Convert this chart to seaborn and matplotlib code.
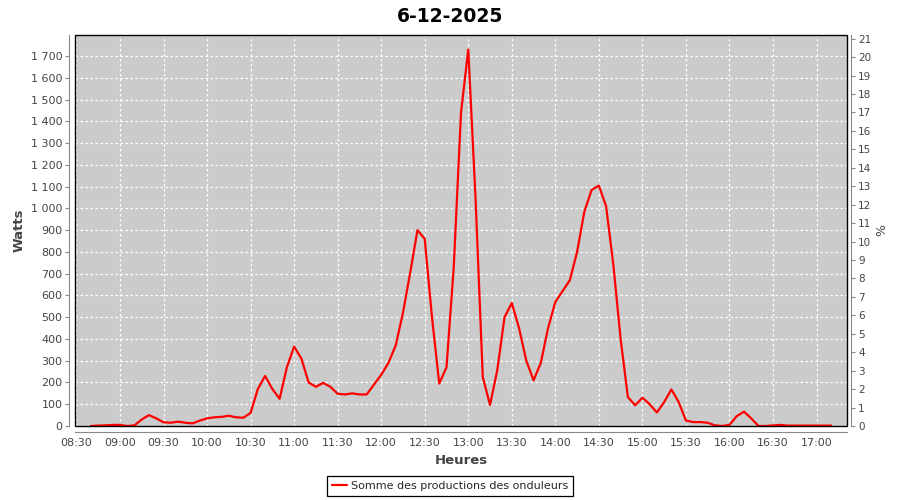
import numpy as np
import pandas as pd
import seaborn as sns
import matplotlib.pyplot as plt
import matplotlib.dates as mdates
from matplotlib.ticker import FuncFormatter, MultipleLocator
from matplotlib.patches import Rectangle

# Production (W), one reading every 5 minutes from 08:40 to 17:10
start = "2025-12-06 08:40"
watts = [
    0, 2, 3, 5,
    5, 0, 3, 30, 50, 35, 17, 15, 20, 15, 12, 25,
    35, 40, 42, 47, 40, 38, 60, 170, 230, 170, 125, 270,
    365, 310, 200, 180, 198, 180, 148, 145, 150, 145, 145, 190,
    235, 290, 370, 520, 705, 900, 860, 500, 195, 270, 730, 1440,
    1730, 1050, 225, 97, 257, 500, 565, 450, 300, 210, 290, 450,
    570, 620, 670, 800, 985, 1085, 1105, 1010, 740, 400, 133, 95,
    130, 100, 62, 110, 168, 110, 25, 18, 18, 15, 3, 0,
    5, 45, 66, 35, 0, 0, 3, 5, 2, 2, 2, 2,
    2, 2, 2,
]
serie = "Somme des productions des onduleurs"

df = pd.DataFrame({
    "heure": pd.date_range(start, periods=len(watts), freq="5min"),
    "watts": watts,
})

sns.set_style("white")
plt.rcParams["font.family"] = ["DejaVu Sans"]

fig = plt.figure(figsize=(9, 5), dpi=100)
ax = fig.add_axes([75 / 900, 74 / 500, 772 / 900, 391 / 500])
ax.set_facecolor("#cbcbcb")

sns.lineplot(data=df, x="heure", y="watts", ax=ax, color="#ff0000",
             linewidth=1.6, label=serie, legend=False)

ax.set_ylim(0, 1797)
ax.set_xlim(pd.Timestamp("2025-12-06 08:29"), pd.Timestamp("2025-12-06 17:21"))
ax.yaxis.set_major_locator(MultipleLocator(100))
ax.yaxis.set_major_formatter(FuncFormatter(lambda v, p: f"{v:,.0f}".replace(",", " ")))
ax.xaxis.set_major_locator(mdates.MinuteLocator(byminute=[0, 30]))
ax.xaxis.set_major_formatter(mdates.DateFormatter("%H:%M"))

ax.grid(True, color="white", linestyle=(0, (2, 2)), linewidth=0.9)
ax.set_axisbelow(True)

for s in ["top", "right"]:
    ax.spines[s].set_visible(False)
for s in ["left", "bottom"]:
    ax.spines[s].set_position(("outward", 4))
    ax.spines[s].set_color("#888888")
ax.tick_params(axis="both", colors="#888888", labelcolor="#444444",
               labelsize=8, length=3, width=0.8, pad=2)

ax.set_xlabel("Heures", fontsize=9.5, fontweight="bold", color="#444444", labelpad=4)
ax.set_ylabel("Watts", fontsize=9.5, fontweight="bold", color="#444444", labelpad=4)

# right hand percentage axis
ax2 = ax.twinx()
ax2.set_ylim(0, 21.2)
ax2.yaxis.set_major_locator(MultipleLocator(1))
for s in ["top", "left", "bottom"]:
    ax2.spines[s].set_visible(False)
ax2.spines["right"].set_position(("outward", 3))
ax2.spines["right"].set_color("#888888")
ax2.tick_params(axis="y", colors="#888888", labelcolor="#444444",
                labelsize=7.5, length=3, width=0.8, pad=2)
ax2.set_ylabel("%", fontsize=9, color="#444444", labelpad=3)

# plot outline
ax.add_patch(Rectangle((0, 0), 1, 1, transform=ax.transAxes, fill=False,
                       edgecolor="black", linewidth=1.0, clip_on=False, zorder=5))

fig.suptitle("6-12-2025", x=0.5, y=0.985, fontsize=13.5, fontweight="bold", color="black")

handles, labels = ax.get_legend_handles_labels()
leg = fig.legend(handles, labels, loc="upper center", bbox_to_anchor=(0.5, 1 - 476 / 500),
                 fontsize=8, frameon=True, fancybox=False, edgecolor="black",
                 framealpha=1, borderpad=0.45, handlelength=1.4, handletextpad=0.3,
                 borderaxespad=0)
leg.get_frame().set_linewidth(0.9)

fig.savefig("out.png", dpi=100)
